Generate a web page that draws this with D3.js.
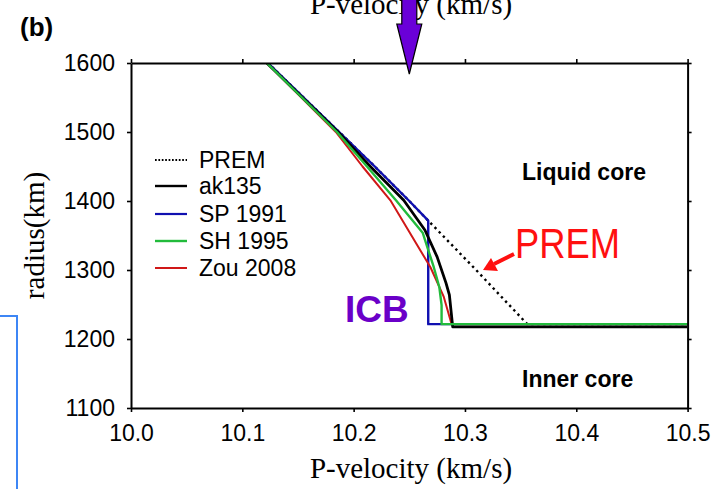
<!DOCTYPE html>
<html>
<head>
<meta charset="utf-8">
<script src="https://cdn.jsdelivr.net/npm/d3@7"></script>
<style>
  html, body { margin: 0; padding: 0; background: #fff; }
  svg { display: block; }
</style>
</head>
<body>
<svg id="chart" width="727" height="489"></svg>
<script>
// Axis ticks
const xTicks = [10.0, 10.1, 10.2, 10.3, 10.4, 10.5];
const yTicks = [1100, 1200, 1300, 1400, 1500, 1600];

// Model names (legend order)
const modelNames = ["PREM", "ak135", "SP 1991", "SH 1995", "Zou 2008"];

// Outer-core P velocity (km/s) against radius (km), down to the ICB and the jump beyond it
const premRadius = [1600, 1500, 1450, 1400, 1371.5, 1350, 1300, 1221.5, 1221.5];
const premVp     = [10.123, 10.187, 10.219, 10.250, 10.267, 10.280, 10.310, 10.356, 10.5];

const ak135Radius = [1600, 1500, 1450, 1401, 1358, 1319, 1281, 1264, 1217.5, 1217.5];
const ak135Vp     = [10.122, 10.186, 10.215, 10.245, 10.264, 10.275, 10.283, 10.286, 10.289, 10.5];

const sp1991Radius = [1600, 1500, 1450, 1400, 1371.5, 1221.5, 1221.5];
const sp1991Vp     = [10.123, 10.187, 10.219, 10.250, 10.267, 10.267, 10.5];

const sh1995Radius = [1600, 1500, 1450, 1401, 1354, 1304, 1275, 1249, 1221.5, 1221.5];
const sh1995Vp     = [10.122, 10.185, 10.212, 10.238, 10.262, 10.272, 10.277, 10.279, 10.279, 10.5];

const zou2008Radius = [1600, 1500, 1450, 1401, 1304, 1261, 1221.5, 1221.5];
const zou2008Vp     = [10.122, 10.184, 10.208, 10.233, 10.269, 10.281, 10.288, 10.5];

// Arrow marking the velocity of interest on the top axis
const markerVp = 10.25;

const svg = d3.select("#chart");
const W = 727, H = 489;
const plot = { left: 131, top: 63, right: 687.6, bottom: 408 };

const x = d3.scaleLinear().domain([10.0, 10.5]).range([plot.left, plot.right]);
const y = d3.scaleLinear().domain([1100, 1600]).range([plot.bottom, plot.top]);

const sans = "'Liberation Sans', Arial, Helvetica, sans-serif";
const serif = "'Liberation Serif', 'Times New Roman', Times, serif";

// Fragment of the neighbouring panel frame at the left edge
svg.append("path")
  .attr("d", `M0,316 H17 V${H}`)
  .attr("fill", "none")
  .attr("stroke", "#3d86f5")
  .attr("stroke-width", 2);

// Clip for the curves
svg.append("defs").append("clipPath").attr("id", "plotClip")
  .append("rect")
  .attr("x", plot.left).attr("y", plot.top)
  .attr("width", plot.right - plot.left).attr("height", plot.bottom - plot.top);

// Series, drawn back to front
const series = [
  { name: "PREM",     r: premRadius,    v: premVp,    color: "#000", width: 2.4, dash: "2.4,3.6" },
  { name: "SP 1991",  r: sp1991Radius,  v: sp1991Vp,  color: "#1010b0", width: 2.4, dash: null },
  { name: "Zou 2008", r: zou2008Radius, v: zou2008Vp, color: "#d01818", width: 2.0, dash: null },
  { name: "ak135",    r: ak135Radius,   v: ak135Vp,   color: "#000", width: 2.8, dash: null },
  { name: "SH 1995",  r: sh1995Radius,  v: sh1995Vp,  color: "#22bb3c", width: 2.4, dash: null }
];

const line = d3.line().x(d => x(d[0])).y(d => y(d[1]));

const curves = svg.append("g").attr("clip-path", "url(#plotClip)");
series.forEach(s => {
  const pts = s.v.map((v, i) => [v, s.r[i]]);
  curves.append("path")
    .datum(pts)
    .attr("d", line)
    .attr("fill", "none")
    .attr("stroke", s.color)
    .attr("stroke-width", s.width)
    .attr("stroke-linejoin", "round")
    .attr("stroke-dasharray", s.dash);
});

// Axes
function styleAxis(g, showLabels) {
  g.select(".domain").attr("stroke", "#000").attr("stroke-width", 2);
  g.selectAll(".tick line").attr("stroke", "#000").attr("stroke-width", 1.6);
  g.selectAll(".tick text")
    .attr("font-family", sans)
    .attr("font-size", 23)
    .attr("fill", "#000");
  if (!showLabels) g.selectAll(".tick text").remove();
}

const fmtX = d3.format(".1f");
svg.append("g")
  .attr("transform", `translate(0,${plot.bottom})`)
  .call(d3.axisBottom(x).tickValues(xTicks).tickFormat(fmtX).tickSize(4).tickSizeOuter(0).tickPadding(13))
  .call(g => styleAxis(g, true));

svg.append("g")
  .attr("transform", `translate(0,${plot.top})`)
  .call(d3.axisTop(x).tickValues(xTicks).tickSize(4).tickSizeOuter(0))
  .call(g => styleAxis(g, false));

svg.append("g")
  .attr("transform", `translate(${plot.left},0)`)
  .call(d3.axisLeft(y).tickValues(yTicks).tickFormat(d3.format("d")).tickSize(4).tickSizeOuter(0).tickPadding(12))
  .call(g => styleAxis(g, true));

svg.append("g")
  .attr("transform", `translate(${plot.right},0)`)
  .call(d3.axisRight(y).tickValues(yTicks).tickSize(4).tickSizeOuter(0))
  .call(g => styleAxis(g, false));

// Axis titles
svg.append("text")
  .attr("x", 411).attr("y", 478)
  .attr("text-anchor", "middle")
  .attr("font-family", serif).attr("font-size", 29)
  .text("P-velocity (km/s)");

svg.append("text")
  .attr("x", 411).attr("y", 14)
  .attr("text-anchor", "middle")
  .attr("font-family", serif).attr("font-size", 29)
  .text("P-velocity (km/s)");

svg.append("text")
  .attr("transform", `translate(44,${(plot.top + plot.bottom) / 2}) rotate(-90)`)
  .attr("text-anchor", "middle")
  .attr("font-family", serif).attr("font-size", 29)
  .text("radius(km)");

// Panel tag
svg.append("text")
  .attr("x", 20).attr("y", 36)
  .attr("font-family", sans).attr("font-weight", "bold").attr("font-size", 26)
  .text("(b)");

// Marker arrow on the top axis
const ax = x(markerVp);
svg.append("path")
  .attr("d", `M${ax - 7.5},-2 L${ax + 7.5},-2 L${ax + 7.5},24 L${ax + 12.5},24 L${ax},74 L${ax - 12.5},24 L${ax - 7.5},24 Z`)
  .attr("fill", "#6a00d8")
  .attr("stroke", "#000")
  .attr("stroke-width", 1.2)
  .attr("stroke-linejoin", "miter");

// Legend
const legendRows = [
  { name: modelNames[0], color: "#000",    width: 2,   dash: "1.7,1.7", y: 160 },
  { name: modelNames[1], color: "#000",    width: 2.4, dash: null,      y: 186 },
  { name: modelNames[2], color: "#1010b0", width: 2.2, dash: null,      y: 214 },
  { name: modelNames[3], color: "#22bb3c", width: 2.4, dash: null,      y: 241 },
  { name: modelNames[4], color: "#d01818", width: 2.0, dash: null,      y: 268 }
];
const legend = svg.append("g");
legendRows.forEach(row => {
  legend.append("line")
    .attr("x1", 155).attr("x2", 187)
    .attr("y1", row.y).attr("y2", row.y)
    .attr("stroke", row.color)
    .attr("stroke-width", row.width)
    .attr("stroke-dasharray", row.dash);
  legend.append("text")
    .attr("x", 199).attr("y", row.y + 8)
    .attr("font-family", sans).attr("font-size", 23)
    .text(row.name);
});

// Region labels
svg.append("text")
  .attr("x", 522).attr("y", 180)
  .attr("font-family", sans).attr("font-weight", "bold").attr("font-size", 23)
  .text("Liquid core");

svg.append("text")
  .attr("x", 522).attr("y", 387)
  .attr("font-family", sans).attr("font-weight", "bold").attr("font-size", 23)
  .text("Inner core");

// ICB label
svg.append("text")
  .attr("x", 345).attr("y", 322)
  .attr("font-family", sans).attr("font-weight", "bold").attr("font-size", 37)
  .attr("fill", "#6a00c8")
  .text("ICB");

// PREM callout with arrow
svg.append("text")
  .attr("x", 515).attr("y", 258)
  .attr("font-family", sans).attr("font-size", 43)
  .attr("textLength", 105).attr("lengthAdjust", "spacingAndGlyphs")
  .attr("fill", "#ff1010")
  .text("PREM");

svg.append("line")
  .attr("x1", 514).attr("y1", 254)
  .attr("x2", 494).attr("y2", 264)
  .attr("stroke", "#ff1010").attr("stroke-width", 4);
svg.append("path")
  .attr("d", "M483,270 L491,258 L498,271 Z")
  .attr("fill", "#ff1010");
</script>
</body>
</html>
